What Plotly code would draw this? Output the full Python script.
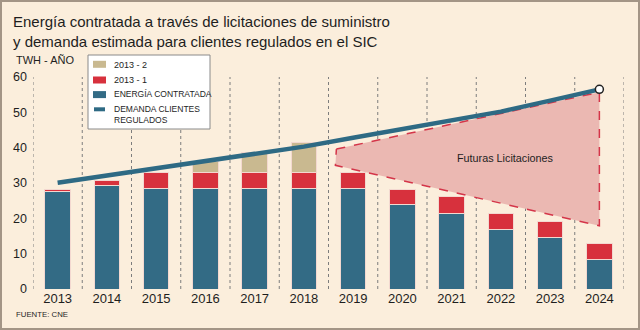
import plotly.graph_objects as go

# Data (TWh per year)
years = [2013, 2014, 2015, 2016, 2017, 2018, 2019, 2020, 2021, 2022, 2023, 2024]
energia_contratada = [27.5, 29.4, 28.5, 28.5, 28.5, 28.5, 28.5, 23.8, 21.5, 16.9, 14.7, 8.3]
lic_2013_1 = [0.6, 1.3, 4.4, 4.4, 4.4, 4.4, 4.4, 4.5, 4.6, 4.4, 4.4, 4.5]
lic_2013_2 = [0, 0, 0, 3.1, 5.7, 8.5, 0, 0, 0, 0, 0, 0]
demanda = [30.1, 32.2, 34.2, 36.2, 38.2, 40.3, 42.8, 45.2, 47.7, 50.2, 53.3, 56.5]

# "Futuras Licitaciones" wedge corners (year, TWh)
futuras_x = [2018.66, 2024, 2024, 2018.64]
futuras_y = [39.6, 55.7, 17.9, 35.0]

y_ticks = [0, 10, 20, 30, 40, 50, 60]

FONT = "Liberation Sans, Arial, sans-serif"
BG = "#fbeedc"
BLUE = "#336b85"
RED = "#d7313d"
TAN = "#c9b990"
LINE = "#2e6a84"
TEXT = "#1e1e1e"

W, H = 640, 330
ML, MR, MT, MB = 33, 16, 77, 41
PW, PH = W - ML - MR, H - MT - MB


def px(x):
    return (x - ML) / PW


def py(y):
    return (H - MB - y) / PH


fig = go.Figure()

bar_line = dict(color="#f3d8d0", width=1)
fig.add_bar(x=years, y=energia_contratada, marker=dict(color=BLUE, line=bar_line),
            width=0.52, name="ENERGÍA CONTRATADA", showlegend=False)
fig.add_bar(x=years, y=lic_2013_1, marker=dict(color=RED, line=bar_line),
            width=0.52, name="2013 - 1", showlegend=False)
fig.add_bar(x=years, y=lic_2013_2, marker=dict(color=TAN, line=bar_line),
            width=0.52, name="2013 - 2", showlegend=False)

fig.add_scatter(x=futuras_x + futuras_x[:1], y=futuras_y + futuras_y[:1],
                mode="lines", fill="toself", fillcolor="#ebb8b2",
                line=dict(color="#d43549", width=1.5, dash="dash"),
                hoverinfo="skip", showlegend=False)

fig.add_scatter(x=years, y=demanda, mode="lines",
                line=dict(color=LINE, width=4.5), name="DEMANDA CLIENTES REGULADOS",
                showlegend=False)
fig.add_scatter(x=years[-1:], y=demanda[-1:], mode="markers",
                marker=dict(size=8, color="white", line=dict(color="#222", width=1.5)),
                hoverinfo="skip", showlegend=False)

shapes = []
# dotted separators between years
for edge in [y - 0.5 for y in years] + [years[-1] + 0.5]:
    shapes.append(dict(type="line", xref="x", yref="y", x0=edge, x1=edge, y0=0, y1=60,
                       line=dict(color="#7d7d7d", width=1, dash="dot"), layer="below"))

# legend box
shapes.append(dict(type="rect", xref="paper", yref="paper",
                   x0=px(88), x1=px(210), y0=py(129), y1=py(55),
                   fillcolor="white", line=dict(color="#8a8a8a", width=1)))
for color, yc in [(TAN, 64.3), (RED, 80.0), (BLUE, 94.6)]:
    shapes.append(dict(type="rect", xref="paper", yref="paper",
                       x0=px(93), x1=px(106), y0=py(yc + 3.5), y1=py(yc - 3.5),
                       fillcolor=color, line=dict(width=0)))
shapes.append(dict(type="line", xref="paper", yref="paper",
                   x0=px(94), x1=px(105), y0=py(109.3), y1=py(109.3),
                   line=dict(color=LINE, width=4)))

# outer frame
shapes.append(dict(type="rect", xref="paper", yref="paper",
                   x0=px(1), x1=px(639), y0=py(329), y1=py(1),
                   line=dict(color="#a39586", width=2), fillcolor="rgba(0,0,0,0)"))

annotations = [
    dict(text="Energía contratada a través de licitaciones de suministro",
         x=px(11), y=py(21.5), xanchor="left", yanchor="middle",
         font=dict(size=15, color=TEXT)),
    dict(text="y demanda estimada para clientes regulados en el SIC",
         x=px(11), y=py(41.5), xanchor="left", yanchor="middle",
         font=dict(size=15, color=TEXT)),
    dict(text="TWH - AÑO", x=px(14), y=py(60), xanchor="left", yanchor="middle",
         font=dict(size=11, color=TEXT)),
    dict(text="FUENTE: CNE", x=px(14), y=py(314), xanchor="left", yanchor="middle",
         font=dict(size=7.8, color=TEXT)),
    dict(text="Futuras Licitaciones", x=2022.1, y=37.0, xref="x", yref="y",
         xanchor="center", yanchor="middle", font=dict(size=10.8, color=TEXT)),
    dict(text="2013 - 2", x=px(112), y=py(64.7), xanchor="left", yanchor="middle",
         font=dict(size=9, color=TEXT)),
    dict(text="2013 - 1", x=px(112), y=py(79.5), xanchor="left", yanchor="middle",
         font=dict(size=9, color=TEXT)),
    dict(text="ENERGÍA CONTRATADA", x=px(112), y=py(94), xanchor="left", yanchor="middle",
         font=dict(size=8.5, color=TEXT)),
    dict(text="DEMANDA CLIENTES", x=px(112), y=py(108.5), xanchor="left", yanchor="middle",
         font=dict(size=8.5, color=TEXT)),
    dict(text="REGULADOS", x=px(112), y=py(120.3), xanchor="left", yanchor="middle",
         font=dict(size=8.5, color=TEXT)),
]
for a in annotations:
    a.setdefault("xref", "paper")
    a.setdefault("yref", "paper")
    a["showarrow"] = False

fig.update_layout(
    width=W, height=H,
    margin=dict(l=ML, r=MR, t=MT, b=MB, pad=0),
    paper_bgcolor=BG, plot_bgcolor=BG,
    barmode="stack",
    font=dict(family=FONT, color=TEXT),
    shapes=shapes, annotations=annotations,
    xaxis=dict(range=[2012.5, 2024.5], tickmode="array", tickvals=years,
               ticktext=[str(y) for y in years], showgrid=False, zeroline=False,
               showline=False, ticks="", tickfont=dict(size=13, color=TEXT),
               fixedrange=True),
    yaxis=dict(range=[0, 60], tickmode="array", tickvals=y_ticks, showgrid=False,
               zeroline=False, showline=False, ticks="", tickfont=dict(size=12.5, color=TEXT),
               ticklabelstandoff=5, fixedrange=True),
    showlegend=False,
)

fig.write_html("out.html", config={"displayModeBar": False})
